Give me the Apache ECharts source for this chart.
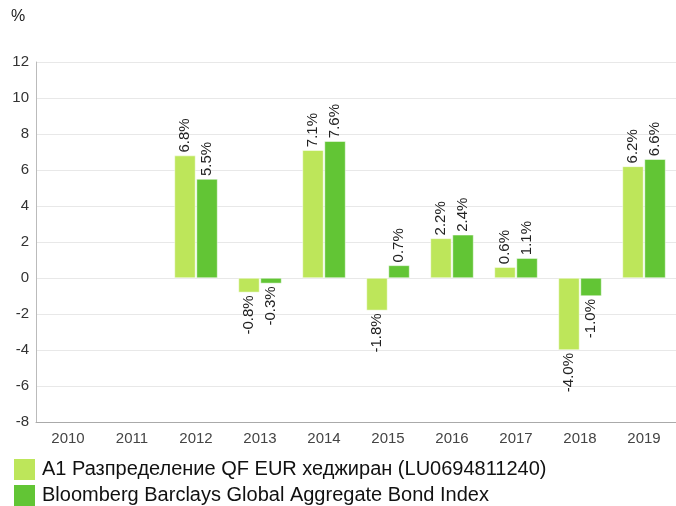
<!DOCTYPE html>
<html>
<head>
<meta charset="utf-8">
<script src="https://cdn.jsdelivr.net/npm/echarts@6/dist/echarts.min.js"></script>
<style>
  html, body { margin: 0; padding: 0; background: #fff; }
  #chart { width: 676px; height: 506px; }
</style>
</head>
<body>
<div id="chart"></div>
<script>
const years = ["2010", "2011", "2012", "2013", "2014", "2015", "2016", "2017", "2018", "2019"];
const fundValues = [null, null, 6.8, -0.8, 7.1, -1.8, 2.2, 0.6, -4.0, 6.2];
const indexValues = [null, null, 5.5, -0.3, 7.6, 0.7, 2.4, 1.1, -1.0, 6.6];
const fundName = "A1 Разпределение QF EUR хеджиран (LU0694811240)";
const indexName = "Bloomberg Barclays Global Aggregate Bond Index";
const yTicks = { min: -8, max: 12, interval: 2 };

const font = "Liberation Sans, Arial, sans-serif";

// negatives get their label below the bar, reading downwards
const toBarData = (values) =>
  values.map((v) => {
    if (v == null) return null;
    if (v < 0) {
      return { value: v, label: { position: "bottom", align: "right" } };
    }
    return { value: v };
  });

const barLabel = {
  show: true,
  position: "top",
  rotate: 90,
  align: "left",
  verticalAlign: "middle",
  distance: 3,
  color: "#222",
  fontFamily: font,
  fontSize: 15,
  formatter: (p) => p.value.toFixed(1) + "%",
};

const legendBase = {
  orient: "vertical",
  left: 14,
  padding: 0,
  itemWidth: 21,
  itemHeight: 21,
  icon: "rect",
  itemStyle: { borderWidth: 0 },
  textStyle: { color: "#111", fontSize: 20, fontFamily: font, padding: [0, 0, 0, 2] },
};

const chart = echarts.init(document.getElementById("chart"));
chart.setOption({
  animation: false,
  backgroundColor: "#fff",
  textStyle: { fontFamily: font },
  grid: { left: 36, right: -3, top: 62, bottom: 84 },
  graphic: [
    {
      type: "text",
      left: 11,
      top: 9,
      style: { text: "%", fill: "#222", font: "16px " + font },
    },
  ],
  legend: [
    { ...legendBase, top: 459, data: [fundName] },
    { ...legendBase, top: 485, data: [indexName] },
  ],
  xAxis: {
    type: "category",
    data: years,
    axisLine: { show: true, onZero: false, lineStyle: { color: "#aaa" } },
    axisTick: { show: false },
    axisLabel: { color: "#444", fontSize: 15, margin: 9, fontFamily: font },
    splitLine: { show: false },
  },
  yAxis: {
    type: "value",
    min: yTicks.min,
    max: yTicks.max,
    interval: yTicks.interval,
    axisLine: { show: true, lineStyle: { color: "#bbb" } },
    axisTick: { show: false },
    axisLabel: { color: "#333", fontSize: 15, margin: 7, fontFamily: font },
    splitLine: { lineStyle: { color: "#e8e8e8" } },
  },
  series: [
    {
      name: fundName,
      type: "bar",
      data: toBarData(fundValues),
      barWidth: 21,
      barGap: "5%",
      itemStyle: { color: "#bde65a", borderColor: "#fff", borderWidth: 0.5 },
      label: barLabel,
    },
    {
      name: indexName,
      type: "bar",
      data: toBarData(indexValues),
      barWidth: 21,
      itemStyle: { color: "#62c535", borderColor: "#fff", borderWidth: 0.5 },
      label: barLabel,
    },
  ],
});
</script>
</body>
</html>
